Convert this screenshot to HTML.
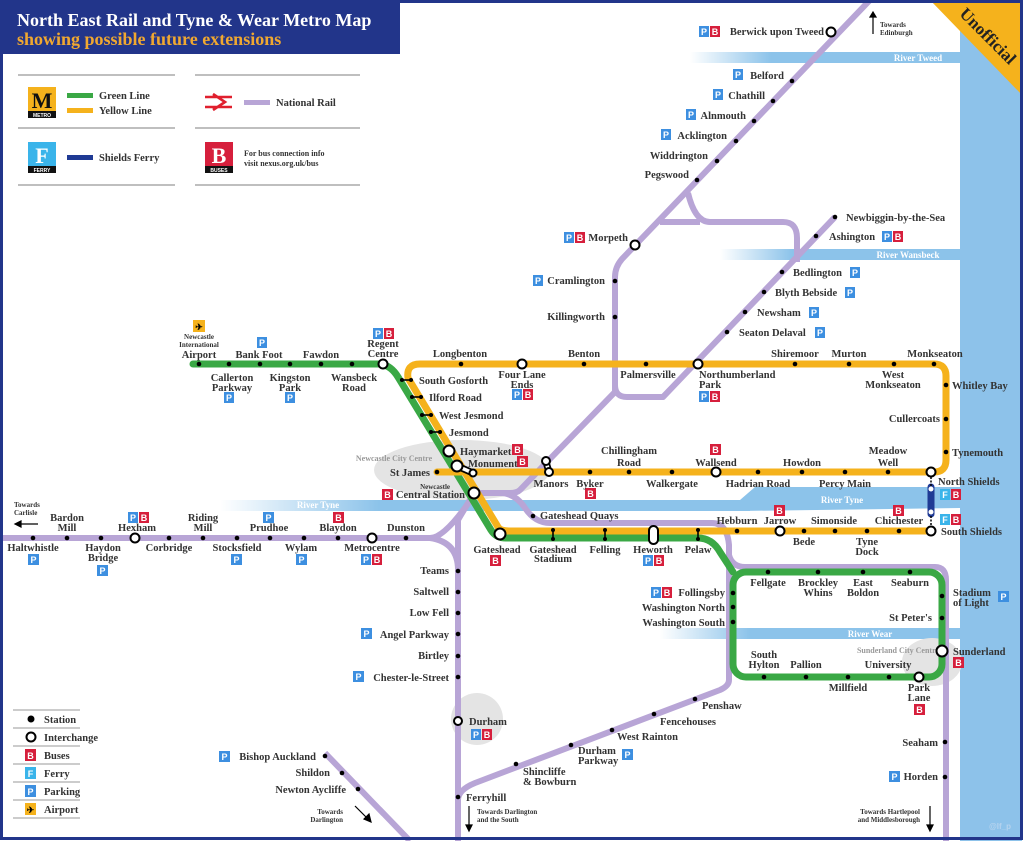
<!DOCTYPE html>
<html><head><meta charset="utf-8"><style>
html,body{margin:0;padding:0;background:#fff}
svg{display:block}
.l{font-family:"Liberation Serif",serif;font-weight:bold;font-size:10.5px;fill:#333}
.m{text-anchor:middle}.e{text-anchor:end}
.s{font-family:"Liberation Serif",serif;font-weight:bold;font-size:7px;fill:#333}
.ic{font-family:"Liberation Sans",sans-serif;font-weight:bold;font-size:9px;fill:#fff;text-anchor:middle}
.rv{font-family:"Liberation Serif",serif;font-weight:bold;font-size:9px;fill:#fff;text-anchor:middle}
.cc{font-family:"Liberation Serif",serif;font-weight:bold;font-size:8px;fill:#999;text-anchor:middle}
.p{fill:none;stroke:#b8a5d6;stroke-width:6;stroke-linejoin:round}
</style></head><body>
<svg width="1024" height="841" viewBox="0 0 1024 841" xmlns="http://www.w3.org/2000/svg">
<defs>
<linearGradient id="rg" x1="0" x2="1" y1="0" y2="0"><stop offset="0" stop-color="#8cc3ea" stop-opacity="0"/><stop offset="0.3" stop-color="#8cc3ea"/><stop offset="1" stop-color="#8cc3ea"/></linearGradient>
</defs>
<rect width="1024" height="841" fill="#fff"/>
<rect x="960" y="0" width="62" height="841" fill="#8dc2ea"/>
<rect x="690" y="52" width="270" height="11" fill="url(#rg)"/>
<text x="918" y="61" class="rv">River Tweed</text>
<rect x="720" y="249" width="240" height="11" fill="url(#rg)"/>
<text x="908" y="258" class="rv">River Wansbeck</text>
<rect x="220" y="500" width="530" height="11" fill="url(#rg)"/>
<polygon points="740,500 755,487 960,487 960,508 740,511" fill="#8cc3ea"/>
<text x="318" y="508" class="rv">River Tyne</text>
<text x="842" y="503" class="rv">River Tyne</text>
<rect x="660" y="628" width="300" height="11" fill="url(#rg)"/>
<text x="870" y="637" class="rv">River Wear</text>
<ellipse cx="462" cy="470" rx="88" ry="30" fill="#e4e4e4"/>
<text x="394" y="461" class="cc">Newcastle City Centre</text>
<circle cx="477" cy="719" r="26" fill="#e4e4e4"/>
<ellipse cx="932" cy="662" rx="30" ry="24" fill="#e4e4e4"/>
<text x="898" y="653" class="cc">Sunderland City Centre</text>

<path class="p" d="M870,0 L622,259 Q615,267 615,277 V385 Q615,397 627,397 H663 L835,217"/>
<path class="p" d="M615,380 V392 L546,463 L520,490 Q517,493 510,493 H474"/>
<path class="p" d="M688,193 Q695,222 710,222 H783 Q797,222 797,238 V262"/>
<path class="p" d="M660,222 H700"/>
<path class="p" d="M0,538 H430 Q445,538 474,495"/>
<path class="p" d="M430,538 Q458,542 458,570 V841"/>
<path class="p" d="M474,493 L458,520 V570"/>
<path class="p" d="M474,493 H500 Q515,493 525,508 Q535,523 550,523 H712 Q727,523 729,545 V680 Q729,686 720,690 L475,783 Q458,790 458,800"/>
<path class="p" d="M729,555 Q732,567 745,567 H935 Q946,567 946,580 V841"/>
<path class="p" d="M325,753 L410,841"/>
<path d="M931,487 V514" stroke="#1f3a94" stroke-width="7" stroke-linecap="round"/>
<circle cx="931" cy="489" r="2.5" fill="#fff"/><circle cx="931" cy="512" r="2.5" fill="#fff"/>
<path d="M931,477 V486 M931,516 V526" stroke="#000" stroke-width="1.5" stroke-dasharray="2,1.5"/>

<path d="M193,364 H378 Q390,364 398,377 L491,530 Q496,538 506,538 H698 Q712,538 720,552 L733,572" fill="none" stroke="#3aa845" stroke-width="7" stroke-linecap="round"/>
<rect x="733" y="572" width="209" height="105" rx="13" fill="none" stroke="#3aa845" stroke-width="7"/>
<path d="M437,472 H934 Q946,472 946,460 V376 Q946,364 934,364 H420 Q406,364 408,378 L498,527 Q500,531 510,531 H931" fill="none" stroke="#f5b21c" stroke-width="7" stroke-linecap="round"/>

<g stroke="#000" stroke-width="1.6">
<line x1="400" y1="380" x2="413" y2="380"/><line x1="410" y1="397" x2="423" y2="397"/><line x1="420" y1="415" x2="433" y2="415"/><line x1="429" y1="432" x2="442" y2="432"/>
<line x1="553" y1="529" x2="553" y2="540"/><line x1="605" y1="529" x2="605" y2="540"/><line x1="698" y1="529" x2="698" y2="540"/>
</g>
<g fill="#000">
<circle cx="792" cy="81" r="2.3"/><circle cx="773" cy="101" r="2.3"/><circle cx="754" cy="121" r="2.3"/><circle cx="736" cy="141" r="2.3"/><circle cx="717" cy="161" r="2.3"/><circle cx="697" cy="180" r="2.3"/>
<circle cx="615" cy="281" r="2.3"/><circle cx="615" cy="317" r="2.3"/>
<circle cx="835" cy="217" r="2.3"/><circle cx="816" cy="236" r="2.3"/><circle cx="782" cy="272" r="2.3"/><circle cx="764" cy="292" r="2.3"/><circle cx="745" cy="312" r="2.3"/><circle cx="727" cy="332" r="2.3"/>
<circle cx="461" cy="364" r="2.3"/><circle cx="584" cy="364" r="2.3"/><circle cx="646" cy="364" r="2.3"/><circle cx="795" cy="364" r="2.3"/><circle cx="849" cy="364" r="2.3"/><circle cx="894" cy="364" r="2.3"/><circle cx="934" cy="364" r="2.3"/>
<circle cx="946" cy="385" r="2.3"/><circle cx="946" cy="419" r="2.3"/><circle cx="946" cy="452" r="2.3"/>
<circle cx="199" cy="364" r="2.3"/><circle cx="229" cy="364" r="2.3"/><circle cx="260" cy="364" r="2.3"/><circle cx="290" cy="364" r="2.3"/><circle cx="321" cy="364" r="2.3"/><circle cx="352" cy="364" r="2.3"/>
<circle cx="402" cy="380" r="2"/><circle cx="411" cy="380" r="2"/><circle cx="412" cy="397" r="2"/><circle cx="421" cy="397" r="2"/><circle cx="422" cy="415" r="2"/><circle cx="431" cy="415" r="2"/><circle cx="431" cy="432" r="2"/><circle cx="440" cy="432" r="2"/>
<circle cx="437" cy="472" r="2.3"/><circle cx="590" cy="472" r="2.3"/><circle cx="629" cy="472" r="2.3"/><circle cx="672" cy="472" r="2.3"/><circle cx="758" cy="472" r="2.3"/><circle cx="802" cy="472" r="2.3"/><circle cx="845" cy="472" r="2.3"/><circle cx="888" cy="472" r="2.3"/>
<circle cx="533" cy="516" r="2.3"/>
<circle cx="553" cy="530" r="2"/><circle cx="553" cy="539" r="2"/><circle cx="605" cy="530" r="2"/><circle cx="605" cy="539" r="2"/><circle cx="698" cy="530" r="2"/><circle cx="698" cy="539" r="2"/>
<circle cx="737" cy="531" r="2.3"/><circle cx="804" cy="531" r="2.3"/><circle cx="835" cy="531" r="2.3"/><circle cx="867" cy="531" r="2.3"/><circle cx="899" cy="531" r="2.3"/>
<circle cx="768" cy="572" r="2.3"/><circle cx="818" cy="572" r="2.3"/><circle cx="863" cy="572" r="2.3"/><circle cx="910" cy="572" r="2.3"/>
<circle cx="942" cy="596" r="2.3"/><circle cx="942" cy="618" r="2.3"/>
<circle cx="889" cy="677" r="2.3"/><circle cx="848" cy="677" r="2.3"/><circle cx="806" cy="677" r="2.3"/><circle cx="764" cy="677" r="2.3"/>
<circle cx="733" cy="593" r="2.3"/><circle cx="733" cy="607" r="2.3"/><circle cx="733" cy="622" r="2.3"/>
<circle cx="33" cy="538" r="2.3"/><circle cx="67" cy="538" r="2.3"/><circle cx="101" cy="538" r="2.3"/><circle cx="169" cy="538" r="2.3"/><circle cx="203" cy="538" r="2.3"/><circle cx="237" cy="538" r="2.3"/><circle cx="270" cy="538" r="2.3"/><circle cx="304" cy="538" r="2.3"/><circle cx="338" cy="538" r="2.3"/><circle cx="406" cy="538" r="2.3"/>
<circle cx="458" cy="571" r="2.3"/><circle cx="458" cy="592" r="2.3"/><circle cx="458" cy="613" r="2.3"/><circle cx="458" cy="634" r="2.3"/><circle cx="458" cy="656" r="2.3"/><circle cx="458" cy="677" r="2.3"/><circle cx="458" cy="797" r="2.3"/>
<circle cx="516" cy="764" r="2.3"/><circle cx="571" cy="745" r="2.3"/><circle cx="612" cy="730" r="2.3"/><circle cx="654" cy="714" r="2.3"/><circle cx="695" cy="699" r="2.3"/>
<circle cx="325" cy="756" r="2.3"/><circle cx="342" cy="773" r="2.3"/><circle cx="358" cy="789" r="2.3"/>
<circle cx="945" cy="742" r="2.3"/><circle cx="945" cy="777" r="2.3"/>
</g>
<g fill="#fff" stroke="#000" stroke-width="2">
<circle cx="831" cy="32" r="4.5"/><circle cx="635" cy="245" r="4.5"/><circle cx="522" cy="364" r="4.5"/><circle cx="698" cy="364" r="4.5"/>
<circle cx="383" cy="364" r="4.5"/><circle cx="449" cy="451" r="5.5"/>
<path d="M457,466 L473,473" stroke-width="7" stroke="#000"/><path d="M457,466 L473,473" stroke-width="3.5" stroke="#fff"/>
<circle cx="457" cy="466" r="5.5"/><circle cx="473" cy="473" r="3.5"/>
<path d="M546,462 L549,472" stroke-width="7" stroke="#000"/><path d="M546,462 L549,472" stroke-width="3.5" stroke="#fff"/>
<circle cx="546" cy="461" r="4"/><circle cx="549" cy="472" r="4"/>
<circle cx="474" cy="493" r="5.5"/><circle cx="500" cy="534" r="5.5"/>
<rect x="649" y="526" width="9" height="18" rx="4.5"/>
<circle cx="716" cy="472" r="4.5"/><circle cx="931" cy="472" r="4.5"/><circle cx="780" cy="531" r="4.5"/><circle cx="931" cy="531" r="4.5"/>
<circle cx="942" cy="651" r="5.5"/><circle cx="919" cy="677" r="4.5"/>
<circle cx="135" cy="538" r="4.5"/><circle cx="372" cy="538" r="4.5"/><circle cx="458" cy="721" r="4"/>
</g>

<g>
<rect x="699" y="26" width="10" height="11" fill="#3d8fe0"/><text x="704" y="35" class="ic">P</text><rect x="710" y="26" width="10" height="11" fill="#d61f3c"/><text x="715" y="35" class="ic">B</text>
<rect x="733" y="69" width="10" height="11" fill="#3d8fe0"/><text x="738" y="78" class="ic">P</text>
<rect x="713" y="89" width="10" height="11" fill="#3d8fe0"/><text x="718" y="98" class="ic">P</text>
<rect x="686" y="109" width="10" height="11" fill="#3d8fe0"/><text x="691" y="118" class="ic">P</text>
<rect x="661" y="129" width="10" height="11" fill="#3d8fe0"/><text x="666" y="138" class="ic">P</text>
<rect x="564" y="232" width="10" height="11" fill="#3d8fe0"/><text x="569" y="241" class="ic">P</text><rect x="575" y="232" width="10" height="11" fill="#d61f3c"/><text x="580" y="241" class="ic">B</text>
<rect x="533" y="275" width="10" height="11" fill="#3d8fe0"/><text x="538" y="284" class="ic">P</text>
<rect x="882" y="231" width="10" height="11" fill="#3d8fe0"/><text x="887" y="240" class="ic">P</text><rect x="893" y="231" width="10" height="11" fill="#d61f3c"/><text x="898" y="240" class="ic">B</text>
<rect x="850" y="267" width="10" height="11" fill="#3d8fe0"/><text x="855" y="276" class="ic">P</text>
<rect x="845" y="287" width="10" height="11" fill="#3d8fe0"/><text x="850" y="296" class="ic">P</text>
<rect x="809" y="307" width="10" height="11" fill="#3d8fe0"/><text x="814" y="316" class="ic">P</text>
<rect x="815" y="327" width="10" height="11" fill="#3d8fe0"/><text x="820" y="336" class="ic">P</text>
<rect x="512" y="389" width="10" height="11" fill="#3d8fe0"/><text x="517" y="398" class="ic">P</text><rect x="523" y="389" width="10" height="11" fill="#d61f3c"/><text x="528" y="398" class="ic">B</text>
<rect x="699" y="391" width="10" height="11" fill="#3d8fe0"/><text x="704" y="400" class="ic">P</text><rect x="710" y="391" width="10" height="11" fill="#d61f3c"/><text x="715" y="400" class="ic">B</text>
<rect x="373" y="328" width="10" height="11" fill="#3d8fe0"/><text x="378" y="337" class="ic">P</text><rect x="384" y="328" width="10" height="11" fill="#d61f3c"/><text x="389" y="337" class="ic">B</text>
<rect x="257" y="337" width="10" height="11" fill="#3d8fe0"/><text x="262" y="346" class="ic">P</text>
<rect x="224" y="392" width="10" height="11" fill="#3d8fe0"/><text x="229" y="401" class="ic">P</text>
<rect x="285" y="392" width="10" height="11" fill="#3d8fe0"/><text x="290" y="401" class="ic">P</text>
<rect x="193" y="320" width="12" height="12" fill="#f5b21c"/><text x="199" y="330" class="ic" style="fill:#000">✈</text>
<rect x="512" y="444" width="11" height="11" fill="#d61f3c"/><text x="517.5" y="453" class="ic">B</text>
<rect x="517" y="456" width="11" height="11" fill="#d61f3c"/><text x="522.5" y="465" class="ic">B</text>
<rect x="382" y="489" width="11" height="11" fill="#d61f3c"/><text x="387.5" y="498" class="ic">B</text>
<rect x="585" y="488" width="11" height="11" fill="#d61f3c"/><text x="590.5" y="497" class="ic">B</text>
<rect x="710" y="444" width="11" height="11" fill="#d61f3c"/><text x="715.5" y="453" class="ic">B</text>
<rect x="940" y="489" width="10" height="11" fill="#3ab4ea"/><text x="945" y="498" class="ic">F</text><rect x="951" y="489" width="10" height="11" fill="#d61f3c"/><text x="956" y="498" class="ic">B</text>
<rect x="940" y="514" width="10" height="11" fill="#3ab4ea"/><text x="945" y="523" class="ic">F</text><rect x="951" y="514" width="10" height="11" fill="#d61f3c"/><text x="956" y="523" class="ic">B</text>
<rect x="774" y="505" width="11" height="11" fill="#d61f3c"/><text x="779.5" y="514" class="ic">B</text>
<rect x="893" y="505" width="11" height="11" fill="#d61f3c"/><text x="898.5" y="514" class="ic">B</text>
<rect x="490" y="555" width="11" height="11" fill="#d61f3c"/><text x="495.5" y="564" class="ic">B</text>
<rect x="643" y="555" width="10" height="11" fill="#3d8fe0"/><text x="648" y="564" class="ic">P</text><rect x="654" y="555" width="10" height="11" fill="#d61f3c"/><text x="659" y="564" class="ic">B</text>
<rect x="651" y="587" width="10" height="11" fill="#3d8fe0"/><text x="656" y="596" class="ic">P</text><rect x="662" y="587" width="10" height="11" fill="#d61f3c"/><text x="667" y="596" class="ic">B</text>
<rect x="998" y="591" width="11" height="11" fill="#3d8fe0"/><text x="1003.5" y="600" class="ic">P</text>
<rect x="953" y="657" width="11" height="11" fill="#d61f3c"/><text x="958.5" y="666" class="ic">B</text>
<rect x="914" y="704" width="11" height="11" fill="#d61f3c"/><text x="919.5" y="713" class="ic">B</text>
<rect x="128" y="512" width="10" height="11" fill="#3d8fe0"/><text x="133" y="521" class="ic">P</text><rect x="139" y="512" width="10" height="11" fill="#d61f3c"/><text x="144" y="521" class="ic">B</text>
<rect x="263" y="512" width="11" height="11" fill="#3d8fe0"/><text x="268.5" y="521" class="ic">P</text>
<rect x="333" y="512" width="11" height="11" fill="#d61f3c"/><text x="338.5" y="521" class="ic">B</text>
<rect x="28" y="554" width="11" height="11" fill="#3d8fe0"/><text x="33.5" y="563" class="ic">P</text>
<rect x="97" y="565" width="11" height="11" fill="#3d8fe0"/><text x="102.5" y="574" class="ic">P</text>
<rect x="231" y="554" width="11" height="11" fill="#3d8fe0"/><text x="236.5" y="563" class="ic">P</text>
<rect x="296" y="554" width="11" height="11" fill="#3d8fe0"/><text x="301.5" y="563" class="ic">P</text>
<rect x="361" y="554" width="10" height="11" fill="#3d8fe0"/><text x="366" y="563" class="ic">P</text><rect x="372" y="554" width="10" height="11" fill="#d61f3c"/><text x="377" y="563" class="ic">B</text>
<rect x="361" y="628" width="11" height="11" fill="#3d8fe0"/><text x="366.5" y="637" class="ic">P</text>
<rect x="353" y="671" width="11" height="11" fill="#3d8fe0"/><text x="358.5" y="680" class="ic">P</text>
<rect x="471" y="729" width="10" height="11" fill="#3d8fe0"/><text x="476" y="738" class="ic">P</text><rect x="482" y="729" width="10" height="11" fill="#d61f3c"/><text x="487" y="738" class="ic">B</text>
<rect x="622" y="749" width="11" height="11" fill="#3d8fe0"/><text x="627.5" y="758" class="ic">P</text>
<rect x="219" y="751" width="11" height="11" fill="#3d8fe0"/><text x="224.5" y="760" class="ic">P</text>
<rect x="889" y="771" width="11" height="11" fill="#3d8fe0"/><text x="894.5" y="780" class="ic">P</text>
</g>

<g class="l">
<text x="824" y="35" class="e">Berwick upon Tweed</text>
<text x="784" y="79" class="e">Belford</text>
<text x="765" y="99" class="e">Chathill</text>
<text x="746" y="119" class="e">Alnmouth</text>
<text x="727" y="139" class="e">Acklington</text>
<text x="708" y="159" class="e">Widdrington</text>
<text x="689" y="178" class="e">Pegswood</text>
<text x="628" y="241" class="e">Morpeth</text>
<text x="605" y="284" class="e">Cramlington</text>
<text x="605" y="320" class="e">Killingworth</text>
<text x="846" y="221">Newbiggin-by-the-Sea</text>
<text x="829" y="240">Ashington</text>
<text x="793" y="276">Bedlington</text>
<text x="775" y="296">Blyth Bebside</text>
<text x="757" y="316">Newsham</text>
<text x="739" y="336">Seaton Delaval</text>
<text x="460" y="357" class="m">Longbenton</text>
<text x="522" y="378" class="m">Four Lane</text><text x="522" y="388" class="m">Ends</text>
<text x="584" y="357" class="m">Benton</text>
<text x="648" y="378" class="m">Palmersville</text>
<text x="699" y="378">Northumberland</text><text x="699" y="388">Park</text>
<text x="795" y="357" class="m">Shiremoor</text>
<text x="849" y="357" class="m">Murton</text>
<text x="893" y="378" class="m">West</text><text x="893" y="388" class="m">Monkseaton</text>
<text x="935" y="357" class="m">Monkseaton</text>
<text x="952" y="389">Whitley Bay</text>
<text x="940" y="422" class="e">Cullercoats</text>
<text x="952" y="456">Tynemouth</text>
<text x="199" y="358" class="m">Airport</text>
<text x="232" y="381" class="m">Callerton</text><text x="232" y="391" class="m">Parkway</text>
<text x="259" y="358" class="m">Bank Foot</text>
<text x="290" y="381" class="m">Kingston</text><text x="290" y="391" class="m">Park</text>
<text x="321" y="358" class="m">Fawdon</text>
<text x="354" y="381" class="m">Wansbeck</text><text x="354" y="391" class="m">Road</text>
<text x="383" y="347" class="m">Regent</text><text x="383" y="357" class="m">Centre</text>
<text x="419" y="384">South Gosforth</text>
<text x="429" y="401">Ilford Road</text>
<text x="439" y="419">West Jesmond</text>
<text x="449" y="436">Jesmond</text>
<text x="460" y="455">Haymarket</text>
<text x="468" y="467">Monument</text>
<text x="430" y="476" class="e">St James</text>
<text x="465" y="498" class="e">Central Station</text>
<text x="551" y="487" class="m">Manors</text>
<text x="590" y="487" class="m">Byker</text>
<text x="629" y="454" class="m">Chillingham</text><text x="629" y="466" class="m">Road</text>
<text x="672" y="487" class="m">Walkergate</text>
<text x="716" y="466" class="m">Wallsend</text>
<text x="758" y="487" class="m">Hadrian Road</text>
<text x="802" y="466" class="m">Howdon</text>
<text x="845" y="487" class="m">Percy Main</text>
<text x="888" y="454" class="m">Meadow</text><text x="888" y="466" class="m">Well</text>
<text x="938" y="485">North Shields</text>
<text x="941" y="535">South Shields</text>
<text x="540" y="519">Gateshead Quays</text>
<text x="497" y="553" class="m">Gateshead</text>
<text x="553" y="553" class="m">Gateshead</text><text x="553" y="562" class="m">Stadium</text>
<text x="605" y="553" class="m">Felling</text>
<text x="653" y="553" class="m">Heworth</text>
<text x="698" y="553" class="m">Pelaw</text>
<text x="737" y="524" class="m">Hebburn</text>
<text x="780" y="524" class="m">Jarrow</text>
<text x="804" y="545" class="m">Bede</text>
<text x="834" y="524" class="m">Simonside</text>
<text x="867" y="545" class="m">Tyne</text><text x="867" y="555" class="m">Dock</text>
<text x="899" y="524" class="m">Chichester</text>
<text x="768" y="586" class="m">Fellgate</text>
<text x="818" y="586" class="m">Brockley</text><text x="818" y="596" class="m">Whins</text>
<text x="863" y="586" class="m">East</text><text x="863" y="596" class="m">Boldon</text>
<text x="910" y="586" class="m">Seaburn</text>
<text x="953" y="596">Stadium</text><text x="953" y="606">of Light</text>
<text x="932" y="621" class="e">St Peter's</text>
<text x="953" y="655">Sunderland</text>
<text x="919" y="691" class="m">Park</text><text x="919" y="701" class="m">Lane</text>
<text x="888" y="668" class="m">University</text>
<text x="848" y="691" class="m">Millfield</text>
<text x="806" y="668" class="m">Pallion</text>
<text x="764" y="658" class="m">South</text><text x="764" y="668" class="m">Hylton</text>
<text x="725" y="596" class="e">Follingsby</text>
<text x="725" y="611" class="e">Washington North</text>
<text x="725" y="626" class="e">Washington South</text>
<text x="33" y="551" class="m">Haltwhistle</text>
<text x="67" y="521" class="m">Bardon</text><text x="67" y="531" class="m">Mill</text>
<text x="103" y="551" class="m">Haydon</text><text x="103" y="561" class="m">Bridge</text>
<text x="137" y="531" class="m">Hexham</text>
<text x="169" y="551" class="m">Corbridge</text>
<text x="203" y="521" class="m">Riding</text><text x="203" y="531" class="m">Mill</text>
<text x="237" y="551" class="m">Stocksfield</text>
<text x="269" y="531" class="m">Prudhoe</text>
<text x="301" y="551" class="m">Wylam</text>
<text x="338" y="531" class="m">Blaydon</text>
<text x="372" y="551" class="m">Metrocentre</text>
<text x="406" y="531" class="m">Dunston</text>
<text x="449" y="574" class="e">Teams</text>
<text x="449" y="595" class="e">Saltwell</text>
<text x="449" y="616" class="e">Low Fell</text>
<text x="449" y="638" class="e">Angel Parkway</text>
<text x="449" y="659" class="e">Birtley</text>
<text x="449" y="681" class="e">Chester-le-Street</text>
<text x="469" y="725">Durham</text>
<text x="466" y="801">Ferryhill</text>
<text x="523" y="775">Shincliffe</text><text x="523" y="785">&amp; Bowburn</text>
<text x="578" y="754">Durham</text><text x="578" y="764">Parkway</text>
<text x="617" y="740">West Rainton</text>
<text x="660" y="725">Fencehouses</text>
<text x="702" y="709">Penshaw</text>
<text x="316" y="760" class="e">Bishop Auckland</text>
<text x="330" y="776" class="e">Shildon</text>
<text x="346" y="793" class="e">Newton Aycliffe</text>
<text x="938" y="746" class="e">Seaham</text>
<text x="938" y="780" class="e">Horden</text>
</g>
<g class="s">
<text x="199" y="339" class="m">Newcastle</text><text x="199" y="347" class="m">International</text>
<text x="450" y="489" class="e">Newcastle</text>
<text x="880" y="27">Towards</text><text x="880" y="35">Edinburgh</text>
<text x="14" y="507">Towards</text><text x="14" y="515">Carlisle</text>
<text x="343" y="814" class="e">Towards</text><text x="343" y="822" class="e">Darlington</text>
<text x="477" y="814">Towards Darlington</text><text x="477" y="822">and the South</text>
<text x="920" y="814" class="e">Towards Hartlepool</text><text x="920" y="822" class="e">and Middlesborough</text>
</g>
<g stroke="#000" stroke-width="1.2" fill="#000">
<line x1="873" y1="34" x2="873" y2="16"/><polygon points="870,17 876,17 873,12"/>
<line x1="38" y1="524" x2="20" y2="524"/><polygon points="21,521 21,527 15,524"/>
<line x1="355" y1="806" x2="367" y2="818"/><polygon points="364,819 369,814 371,822"/>
<line x1="469" y1="806" x2="469" y2="826"/><polygon points="466,825 472,825 469,831"/>
<line x1="930" y1="806" x2="930" y2="826"/><polygon points="927,825 933,825 930,831"/>
</g>
<text x="1000" y="829" style="font:bold 8px 'Liberation Sans',sans-serif;fill:#b5d3ee" text-anchor="middle">@lf_p</text>

<g stroke="#999" stroke-width="1">
<line x1="13" y1="710" x2="80" y2="710"/><line x1="13" y1="728" x2="80" y2="728"/><line x1="13" y1="746" x2="80" y2="746"/><line x1="13" y1="764" x2="80" y2="764"/><line x1="13" y1="782" x2="80" y2="782"/><line x1="13" y1="800" x2="80" y2="800"/><line x1="13" y1="818" x2="80" y2="818"/>
</g>
<circle cx="31" cy="719" r="3.5" fill="#000"/>
<circle cx="31" cy="737" r="4.5" fill="#fff" stroke="#000" stroke-width="2"/>
<rect x="25" y="749" width="11" height="12" fill="#d61f3c"/><text x="30.5" y="759" class="ic">B</text>
<rect x="25" y="767" width="11" height="12" fill="#3ab4ea"/><text x="30.5" y="777" class="ic">F</text>
<rect x="25" y="785" width="11" height="12" fill="#3d8fe0"/><text x="30.5" y="795" class="ic">P</text>
<rect x="25" y="803" width="11" height="12" fill="#f5b21c"/><text x="30.5" y="813" class="ic" style="fill:#000">✈</text>
<g class="l"><text x="44" y="723">Station</text><text x="44" y="741">Interchange</text><text x="44" y="759">Buses</text><text x="44" y="777">Ferry</text><text x="44" y="795">Parking</text><text x="44" y="813">Airport</text></g>

<g stroke="#999" stroke-width="1.2">
<line x1="18" y1="75" x2="175" y2="75"/><line x1="18" y1="128" x2="175" y2="128"/><line x1="18" y1="185" x2="175" y2="185"/>
<line x1="195" y1="75" x2="360" y2="75"/><line x1="195" y1="128" x2="360" y2="128"/><line x1="195" y1="185" x2="360" y2="185"/>
</g>
<rect x="28" y="87" width="28" height="31" fill="#f5b21c"/><rect x="28" y="111" width="28" height="7" fill="#111"/>
<text x="42" y="108" style="font:bold 22px 'Liberation Serif',serif;fill:#111" text-anchor="middle">M</text>
<text x="42" y="117" style="font:bold 5px 'Liberation Sans',sans-serif;fill:#fff" text-anchor="middle">METRO</text>
<rect x="67" y="93" width="26" height="5" fill="#3aa845"/><rect x="67" y="108" width="26" height="5" fill="#f5b21c"/>
<text x="99" y="99" class="l">Green Line</text><text x="99" y="114" class="l">Yellow Line</text>
<g stroke="#e0202e" stroke-width="2.6" fill="none"><path d="M205,97 H232 M205,107 H232 M213,94 L225,102 L213,110"/></g>
<rect x="244" y="100" width="26" height="5" fill="#b8a5d6"/>
<text x="276" y="106" class="l">National Rail</text>
<rect x="28" y="142" width="28" height="31" fill="#3ab4ea"/><rect x="28" y="166" width="28" height="7" fill="#111"/>
<text x="42" y="163" style="font:bold 22px 'Liberation Serif',serif;fill:#fff" text-anchor="middle">F</text>
<text x="42" y="172" style="font:bold 5px 'Liberation Sans',sans-serif;fill:#fff" text-anchor="middle">FERRY</text>
<rect x="67" y="155" width="26" height="5" fill="#1f3a94"/>
<text x="99" y="161" class="l">Shields Ferry</text>
<rect x="205" y="142" width="28" height="31" fill="#d61f3c"/><rect x="205" y="166" width="28" height="7" fill="#111"/>
<text x="219" y="163" style="font:bold 22px 'Liberation Serif',serif;fill:#fff" text-anchor="middle">B</text>
<text x="219" y="172" style="font:bold 5px 'Liberation Sans',sans-serif;fill:#fff" text-anchor="middle">BUSES</text>
<text x="244" y="156" style="font:bold 8px 'Liberation Serif',serif;fill:#333">For bus connection info</text>
<text x="244" y="166" style="font:bold 8px 'Liberation Serif',serif;fill:#333">visit nexus.org.uk/bus</text>

<rect x="0" y="0" width="400" height="54" fill="#22358a"/>
<text x="17" y="26" style="font:bold 18px 'Liberation Serif',serif;fill:#fff">North East Rail and Tyne &amp; Wear Metro Map</text>
<text x="17" y="45" style="font:bold 18px 'Liberation Serif',serif;fill:#f0a830">showing possible future extensions</text>
<polygon points="930,0 1022,0 1022,95" fill="#f5b21c"/>
<text x="0" y="0" transform="translate(984,40) rotate(45)" style="font:bold 17px 'Liberation Serif',serif;fill:#222" text-anchor="middle">Unofficial</text>
<rect x="1.5" y="1.5" width="1020" height="837" fill="none" stroke="#22358a" stroke-width="3"/>
</svg>
</body></html>
